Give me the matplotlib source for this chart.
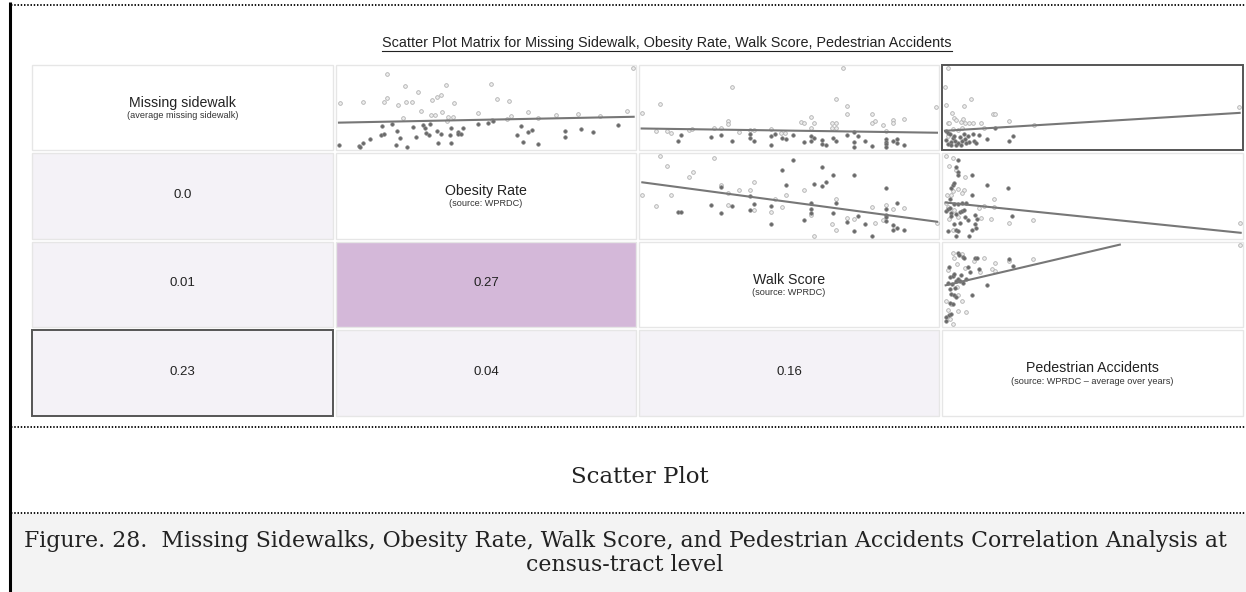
import matplotlib
matplotlib.use("Agg")
import matplotlib.pyplot as plt
from matplotlib.patches import Rectangle

W, H = 1246, 592

# ---- data ----
labels = ["Missing sidewalk", "Obesity Rate", "Walk Score", "Pedestrian Accidents"]
sources = ["(average missing sidewalk)", "(source: WPRDC)", "(source: WPRDC)",
           "(source: WPRDC \u2013 average over years)"]
corr_cells = [(1, 0), (2, 0), (2, 1), (3, 0), (3, 1), (3, 2)]
corr_values = ["0.0", "0.01", "0.27", "0.23", "0.04", "0.16"]

title = "Scatter Plot Matrix for Missing Sidewalk, Obesity Rate, Walk Score, Pedestrian Accidents"
section = "Scatter Plot"
caption = ("Figure. 28.  Missing Sidewalks, Obesity Rate, Walk Score, and Pedestrian Accidents Correlation Analysis at\n"
           "census-tract level")

# scatter points (x, y) per cell, light = above fit, dark = below fit
ms_ob_light = [(10, 120), (78, 118), (150, 30), (143, 116), (152, 103), (184, 125), (204, 67), (199, 166),
               (209, 116), (227, 116), (246, 85), (255, 144), (284, 156), (286, 110), (297, 158), (301, 100),
               (313, 96), (316, 146), (329, 65), (333, 174), (336, 163), (349, 162), (352, 121), (425, 150),
               (466, 62), (468, 172), (484, 106), (514, 168), (519, 113), (526, 160), (578, 148), (606, 167),
               (662, 158), (727, 155), (794, 161), (876, 145), (895, 12)]
ms_ob_dark = [(6, 248), (66, 252), (70, 256), (78, 243), (100, 231), (133, 219), (137, 190), (143, 216),
              (165, 185), (178, 250), (181, 206), (190, 226), (212, 256), (229, 192), (240, 225), (259, 187),
              (265, 196), (270, 213), (278, 218), (280, 185), (302, 206), (304, 242), (315, 216), (342, 218),
              (344, 196), (343, 244), (365, 210), (366, 216), (375, 215), (380, 195), (427, 183), (456, 180),
              (470, 176), (544, 219), (556, 190), (562, 239), (578, 208), (590, 202), (606, 246), (688, 206),
              (688, 225), (738, 200), (774, 210), (850, 186)]
ms_ob_fit = [(6, 180), (896, 162)]

ms_ws_light = [(8, 151), (64, 124), (52, 207), (86, 205), (96, 211), (150, 203), (160, 201), (226, 196),
               (248, 197), (270, 175), (270, 184), (280, 72), (302, 209), (336, 203), (346, 204), (399, 201),
               (430, 211), (440, 211), (488, 178), (498, 180), (519, 163), (519, 196), (530, 182), (583, 180),
               (583, 196), (595, 107), (596, 180), (596, 198), (628, 130), (628, 153), (616, 13), (704, 152),
               (704, 180), (714, 175), (736, 186), (746, 205), (768, 172), (768, 182), (800, 169), (898, 132)]
ms_ws_dark = [(118, 236), (128, 218), (216, 224), (248, 219), (280, 236), (334, 228), (336, 214), (346, 236),
              (399, 221), (399, 250), (410, 216), (432, 226), (444, 231), (464, 217), (498, 240), (519, 222),
              (519, 236), (530, 226), (552, 232), (552, 247), (564, 250), (585, 227), (596, 235), (628, 217),
              (650, 208), (650, 240), (650, 254), (660, 221), (682, 236), (704, 252), (746, 230), (746, 238),
              (746, 246), (746, 254), (768, 236), (778, 230), (778, 242), (800, 248)]
ms_ws_fit = [(8, 198), (900, 211)]

ms_pa_light = [(20, 13), (13, 72), (16, 125), (90, 107), (70, 130), (34, 150), (156, 153), (162, 153),
               (206, 174), (280, 186), (20, 182), (25, 180), (40, 165), (45, 172), (60, 178), (66, 170),
               (72, 180), (86, 182), (96, 182), (122, 180), (36, 200), (50, 202), (64, 195), (130, 198),
               (20, 220), (900, 133)]
ms_pa_dark = [(16, 206), (22, 212), (28, 215), (16, 232), (20, 245), (30, 238), (36, 228), (40, 220),
              (46, 250), (52, 242), (56, 225), (62, 236), (68, 214), (72, 230), (80, 222), (86, 240),
              (96, 214), (100, 236), (106, 242), (114, 217), (140, 230), (162, 198), (204, 236), (216, 221),
              (30, 250), (60, 250), (42, 235), (76, 244)]
ms_pa_fit = [(12, 205), (902, 150)]

ob_ws_light = [(64, 13), (86, 42), (150, 77), (162, 60), (226, 18), (8, 131), (52, 167), (96, 131),
               (248, 102), (270, 126), (270, 163), (302, 118), (334, 116), (346, 93), (346, 179), (400, 183),
               (410, 143), (432, 169), (444, 131), (498, 117), (519, 193), (530, 257), (583, 221), (596, 143),
               (596, 238), (628, 204), (650, 206), (704, 170), (714, 219), (736, 209), (746, 163), (768, 176),
               (800, 173), (900, 217)]
ob_ws_dark = [(118, 183), (128, 183), (216, 164), (248, 106), (248, 188), (280, 167), (334, 134), (334, 177),
              (346, 159), (400, 166), (400, 222), (432, 56), (444, 101), (464, 25), (498, 208), (519, 157),
              (519, 174), (519, 187), (530, 97), (552, 46), (552, 105), (564, 93), (585, 71), (585, 187),
              (596, 158), (628, 215), (650, 71), (650, 242), (660, 197), (682, 220), (704, 258), (746, 110),
              (746, 176), (746, 192), (746, 200), (746, 211), (768, 224), (768, 240), (778, 158), (778, 234),
              (800, 238)]
ob_ws_fit = [(10, 93), (900, 214)]

ob_pa_light = [(14, 13), (24, 42), (36, 18), (44, 55), (72, 77), (18, 131), (30, 131), (36, 120), (50, 115),
               (70, 118), (62, 127), (14, 155), (20, 170), (40, 177), (116, 173), (130, 165), (160, 143),
               (160, 170), (152, 205), (206, 218), (278, 209), (902, 218), (24, 205), (50, 198), (120, 203),
               (36, 240)]
ob_pa_dark = [(52, 25), (44, 47), (50, 60), (52, 70), (94, 70), (30, 110), (36, 100), (40, 95), (26, 145),
              (40, 160), (50, 160), (64, 158), (76, 155), (94, 133), (140, 100), (202, 110), (14, 182),
              (20, 175), (26, 172), (30, 188), (46, 190), (56, 185), (62, 180), (68, 178), (72, 198), (80, 210),
              (104, 193), (108, 207), (102, 222), (106, 232), (40, 222), (56, 218), (20, 242), (44, 240),
              (52, 242), (94, 238), (84, 257), (44, 258), (214, 197), (30, 195)]
ob_pa_fit = [(14, 155), (905, 248)]

ws_pa_light = [(20, 355), (36, 305), (40, 318), (64, 306), (48, 338), (72, 350), (100, 327), (118, 363),
               (130, 320), (154, 352), (162, 333), (162, 360), (206, 327), (278, 323), (902, 279), (16, 450),
               (30, 460), (50, 432), (64, 450), (20, 480), (26, 505), (35, 522), (52, 482), (74, 485), (48, 408)]
ws_pa_dark = [(50, 305), (54, 310), (66, 316), (68, 320), (24, 348), (28, 378), (36, 375), (40, 368),
              (44, 390), (22, 395), (34, 400), (42, 410), (50, 385), (60, 370), (76, 385), (88, 362),
              (104, 318), (108, 320), (114, 352), (140, 403), (206, 322), (216, 345), (26, 415), (30, 430),
              (38, 432), (44, 440), (28, 458), (36, 460), (94, 433), (24, 495), (16, 500), (30, 490),
              (16, 512), (56, 390), (66, 396), (80, 346)]
ws_pa_fit = [(14, 403), (540, 278)]

scatter_cells = {
    (0, 1): (ms_ob_light, ms_ob_dark, ms_ob_fit, (0, 900, 261, 6)),
    (0, 2): (ms_ws_light, ms_ws_dark, ms_ws_fit, (3, 903, 261, 6)),
    (0, 3): (ms_pa_light, ms_pa_dark, ms_pa_fit, (6, 909, 261, 6)),
    (1, 2): (ob_ws_light, ob_ws_dark, ob_ws_fit, (3, 903, 264, 6)),
    (1, 3): (ob_pa_light, ob_pa_dark, ob_pa_fit, (6, 909, 264, 6)),
    (2, 3): (ws_pa_light, ws_pa_dark, ws_pa_fit, (6, 909, 528, 273)),
}

# ---- layout (pixels) ----
col_x = [(32, 333), (336, 636), (639, 939), (942, 1243)]
row_y = [(65, 150), (153, 239), (242, 327), (330, 416)]
highlight = (2, 1)
boxed = [(0, 3), (3, 0)]

sans = ["Liberation Sans", "DejaVu Sans"]
serif = ["DejaVu Serif"]

fig = plt.figure(figsize=(W / 100, H / 100), dpi=100)
bg = fig.add_axes([0, 0, 1, 1])
bg.set_xlim(0, W)
bg.set_ylim(H, 0)
bg.axis("off")


def fig_box(x0, y0, x1, y1):
    return [x0 / W, 1 - y1 / H, (x1 - x0) / W, (y1 - y0) / H]


# frame lines
bg.plot([10, 10], [2, H], color="black", lw=2.2, solid_capstyle="butt")
dots = (0, (0.8, 1.0))
for yy in [5, 427, 513]:
    bg.plot([11, W], [yy, yy], color="black", lw=1.3, linestyle=dots)
bg.add_patch(Rectangle((11, 514), W - 11, H - 514, facecolor="#f3f3f3", edgecolor="none"))

# title
t = bg.text(667, 43, title, ha="center", va="center", fontsize=10.4, family=sans, color="#222222")
fig.canvas.draw()
ext = t.get_window_extent().transformed(bg.transData.inverted())
bg.plot([ext.x0, ext.x1], [50.5, 50.5], color="#222222", lw=0.8)

# grid cells
for r in range(4):
    for c in range(4):
        x0, x1 = col_x[c]
        y0, y1 = row_y[r]
        if r > c:
            face = "#d4b8d9" if (r, c) == highlight else "#f4f2f7"
        else:
            face = "white"
        edge, lw = ("#555555", 1.4) if (r, c) in boxed else ("#e6e6e6", 1.0)
        bg.add_patch(Rectangle((x0, y0), x1 - x0, y1 - y0, facecolor=face, edgecolor=edge, lw=lw))
        cx, cy = (x0 + x1) / 2, (y0 + y1) / 2
        if r == c:
            bg.text(cx, cy - 5, labels[r], ha="center", va="center", fontsize=10.2, family=sans,
                    color="#222222")
            bg.text(cx, cy + 8, sources[r], ha="center", va="center", fontsize=6.6, family=sans,
                    color="#333333")

for (r, c), val in zip(corr_cells, corr_values):
    x0, x1 = col_x[c]
    y0, y1 = row_y[r]
    bg.text((x0 + x1) / 2, (y0 + y1) / 2 - 1, val, ha="center", va="center", fontsize=9.5,
            family=sans, color="#222222")

# scatter cells
for (r, c), (light, dark, fit, view) in scatter_cells.items():
    x0, x1 = col_x[c]
    y0, y1 = row_y[r]
    ax = fig.add_axes(fig_box(x0 + 1, y0 + 1, x1 - 1, y1 - 1))
    ax.set_xlim(view[0], view[1])
    ax.set_ylim(view[2], view[3])
    ax.axis("off")
    ax.patch.set_alpha(0)
    ax.scatter([p[0] for p in light], [p[1] for p in light], s=7, facecolor="#eeeeee",
               edgecolor="#b0b0b0", linewidth=0.6, clip_on=False, zorder=2)
    ax.scatter([p[0] for p in dark], [p[1] for p in dark], s=7, facecolor="#6a6a6a",
               edgecolor="#8a8a8a", linewidth=0.4, clip_on=False, zorder=3)
    ax.plot([p[0] for p in fit], [p[1] for p in fit], color="#777777", lw=1.5, zorder=4)

# section label and caption
bg.text(640, 477, section, ha="center", va="center", fontsize=16.5, family=serif, color="#222222")
bg.text(625, 553, caption, ha="center", va="center", fontsize=15.8, family=serif, color="#222222",
        linespacing=1.15)

fig.savefig("out.png", dpi=100)
